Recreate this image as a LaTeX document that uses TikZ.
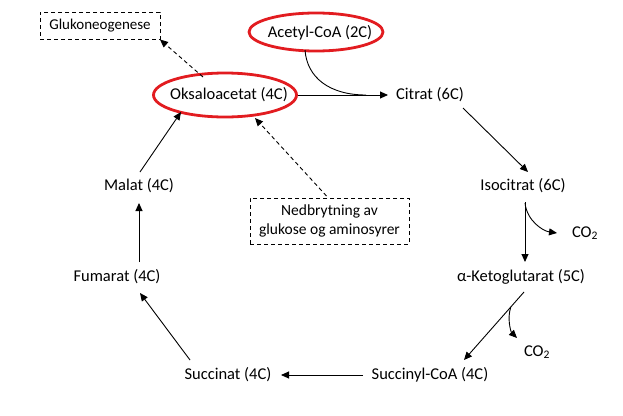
\documentclass[tikz,border=0pt]{standalone}
\usepackage{fontspec}
\setmainfont{Carlito}
\usetikzlibrary{arrows.meta,shapes.geometric}
\definecolor{ovalred}{RGB}{226,28,32}
\begin{document}
\begin{tikzpicture}[x=1pt,y=-1pt,
  every node/.style={font=\fontsize{16.5}{19}\selectfont},
  met/.style={inner sep=2pt},
  oval/.style={ellipse,draw=ovalred,line width=2.8pt,minimum width=#1,minimum height=38pt,inner sep=0pt},
  dbox/.style={draw,dash pattern=on 4pt off 3pt,line width=0.8pt,inner sep=3pt,align=center,font=\fontsize{15.5}{19}\selectfont},
  arr/.style={-{Triangle[length=8pt,width=7pt]},line width=0.9pt},
  darr/.style={-{Triangle[length=8pt,width=7pt]},line width=0.9pt,dash pattern=on 4pt off 3pt}]
\useasboundingbox (0,0) rectangle (623,415);
\node[dbox,minimum width=120pt,minimum height=27pt,font=\fontsize{15}{18}\selectfont] (glu) at (100,25.5) {Glukoneogenese};
\node[oval=134pt] (acoa) at (316,32) {};
\node[met] (acoat) at (320,33) {Acetyl-CoA (2C)};
\node[oval=143pt,minimum height=44pt] (oks) at (225,95) {};
\node[met] (okst) at (229,95) {Oksaloacetat (4C)};
\node[met] (cit) at (430,95) {Citrat (6C)};
\node[met] (iso) at (523,186) {Isocitrat (6C)};
\node[met] (co2a) at (585,233) {CO\textsubscript{2}};
\node[met] (akg) at (521,277) {α-Ketoglutarat (5C)};
\node[met] (co2b) at (537,352) {CO\textsubscript{2}};
\node[met] (succ) at (430,375) {Succinyl-CoA (4C)};
\node[met] (suc) at (228,375) {Succinat (4C)};
\node[met] (fum) at (117,277) {Fumarat (4C)};
\node[met] (mal) at (139,186) {Malat (4C)};
\node[dbox,minimum width=159pt,minimum height=46pt] (ned) at (329.5,221) {Nedbrytning av\\glukose og aminosyrer};
% connectors
\draw[arr] (oks.east) -- ([xshift=-42pt]cit.center);
\draw[line width=0.9pt] ([shift={(-11,18)}]acoa.center) .. controls +(2,28) and +(-36,0) .. ([xshift=-64pt]cit.center);
\draw[arr] ([shift={(33,13)}]cit.center) -- ([shift={(5,-14)}]iso.center);
\draw[arr] ([shift={(2,16)}]iso.center) -- ([shift={(4,-15)}]akg.center);
\draw[arr] ([shift={(2,17)}]iso.center) .. controls +(2,18) and +(-14,-2) .. ([shift={(-28,0)}]co2a.center);
\draw[arr] ([shift={(3,15)}]akg.center) -- ([shift={(34,-15)}]succ.center);
\path ([shift={(3,15)}]akg.center) -- ([shift={(34,-15)}]succ.center) coordinate[pos=0.22] (br);
\draw[arr] (br) .. controls +(-4,12) and +(-6,-6) .. ([shift={(-20,-14)}]co2b.center);
\draw[arr] ([xshift=-67pt]succ.center) -- ([xshift=53pt]suc.center);
\draw[arr] ([shift={(-38,-15)}]suc.center) -- ([shift={(23,16)}]fum.center);
\draw[arr] ([shift={(22,-15)}]fum.center) -- ([shift={(0,17)}]mal.center);
\draw[arr] ([shift={(1,-14)}]mal.center) -- ([shift={(-44,17)}]oks.center);
\draw[darr] ([shift={(-3,-25)}]ned.center) -- ([shift={(30,23)}]oks.center);
\draw[darr] ([shift={(-22,-18)}]oks.center) -- ([shift={(60,14)}]glu.center);
\end{tikzpicture}
\end{document}
